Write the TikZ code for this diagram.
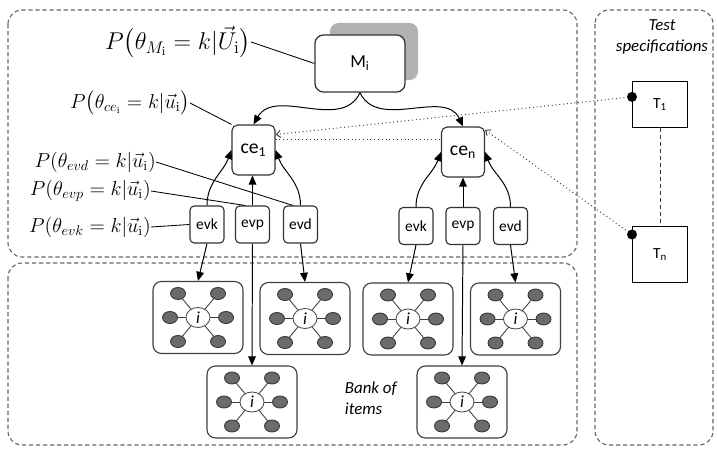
\documentclass[tikz,border=0pt]{standalone}
\usepackage{amsmath}
\usepackage{fontspec}
\setsansfont{Carlito}
\usetikzlibrary{arrows.meta, shapes.geometric, positioning, calc}
\tikzset{
  areabox/.style={
    draw=black!60, line width=0.8pt, dash pattern=on 3pt off 2pt,
    rounded corners=10pt
  },
  mbox/.style={
    rectangle, rounded corners=6pt,
    minimum width=2.25cm, minimum height=1.425cm,
    draw=black!80, line width=0.9pt, fill=white,
    font=\sffamily\fontsize{13}{15}\selectfont
  },
  mshadow/.style={
    rectangle, rounded corners=6pt,
    minimum width=2.2cm, minimum height=1.425cm,
    fill=black!30
  },
  cebox/.style={
    rectangle, rounded corners=4pt, inner sep=0pt,
    minimum width=1.075cm, minimum height=1.25cm,
    draw=black!80, line width=0.8pt, fill=white,
    font=\sffamily\fontsize{14}{16}\selectfont
  },
  evbox/.style={
    rectangle, rounded corners=3pt, inner sep=0pt,
    minimum width=0.85cm, minimum height=0.925cm,
    draw=black!80, line width=0.8pt, fill=white,
    font=\sffamily\fontsize{11}{13}\selectfont
  },
  testbox/.style={
    rectangle, minimum width=1.375cm, minimum height=#1,
    draw=black, line width=0.7pt, fill=white,
    font=\sffamily\fontsize{11}{13}\selectfont
  },
  itembox/.style={
    rectangle, rounded corners=6pt,
    minimum width=2.25cm, minimum height=1.8cm,
    draw=black!75, line width=0.8pt, fill=white
  },
  itemcore/.style={
    ellipse, inner sep=0pt, minimum width=0.6cm, minimum height=0.5cm,
    draw=black!70, line width=0.6pt, fill=white,
    font=\sffamily\itshape\fontsize{12}{12}\selectfont
  },
  itemleaf/.style={
    ellipse, inner sep=0pt, minimum width=0.375cm, minimum height=0.3cm,
    draw=black!80, line width=0.6pt, fill=black!58
  },
  itemedge/.style={black!75, line width=0.6pt},
  probtext/.style={anchor=east, inner sep=0pt, font=\fontsize{14}{16}\selectfont},
  linkline/.style={black, line width=0.6pt},
  flowarrow/.style={-{Triangle[length=6.5pt,width=5.5pt]}, black, line width=0.7pt},
  specline/.style={black!75, line width=0.7pt, dotted},
  specarrow/.style={specline, -{Straight Barb[length=3pt,width=5pt]}},
  specdot/.style={circle, fill=black, minimum size=0.25cm, inner sep=0pt},
}

\begin{document}
\begin{tikzpicture}[x=0.025cm, y=-0.025cm]
    \useasboundingbox (0,0) rectangle (717,451);

    % the three areas
    \draw[areabox] (8,10)   rectangle (577,257);
    \draw[areabox] (8,263)  rectangle (577,445);
    \draw[areabox] (595,10) rectangle (713,445);

    \node[font=\sffamily\itshape\fontsize{12}{15}\selectfont, align=center]
         (spec) at (662,37) {Test\\specifications};

    % model and competences
    \node[mshadow] (Mish) at (374,51.5) {};
    \node[mbox]    (Mi)   at (360,63.5) {M\textsubscript{i}};

    \node[cebox] (ce1) at (253.5,150) {ce\textsubscript{1}};
    \node[cebox] (cen) at (463,152)   {ce\textsubscript{n}};

    \node[evbox] (evk1) at (207,224.5)   {evk};
    \node[evbox] (evp1) at (252.5,224.5) {evp};
    \node[evbox] (evd1) at (300.5,224.5) {evd};

    \node[evbox] (evkn) at (416,226)   {evk};
    \node[evbox] (evpn) at (463,226)   {evp};
    \node[evbox] (evdn) at (510.5,226) {evd};

    \draw[flowarrow] (Mi.south) to[out=-115,in=60]  (ce1.north);
    \draw[flowarrow] (Mi.south) to[out=-65, in=115] (cen.north);

    \draw[flowarrow] (evk1.north) to[out=90,in=250] (ce1.west);
    \draw[flowarrow] (evp1.north) -- (evp1.north |- ce1.south);
    \draw[flowarrow] (evd1.north) to[out=90,in=-70] (ce1.east);

    \draw[flowarrow] (evkn.north) to[out=90,in=250] (cen.west);
    \draw[flowarrow] (evpn.north) -- (evpn.north |- cen.south);
    \draw[flowarrow] (evdn.north) to[out=90,in=-70] (cen.east);

    % probability labels
    \node[probtext, font=\fontsize{18}{20}\selectfont] (pM) at (251,42)
         {$P\bigl(\theta_{M_\mathrm{i}} = k|\vec{U}_\mathrm{i}\bigr)$};
    \node[probtext] (pce)  at (190,103)
         {$P\bigl(\theta_{ce_\mathrm{i}} = k|\vec{u}_\mathrm{i}\bigr)$};
    \node[probtext] (pevd) at (156,162) {$P(\theta_{evd} = k|\vec{u}_\mathrm{i})$};
    \node[probtext] (pevp) at (151,191) {$P(\theta_{evp} = k|\vec{u}_\mathrm{i})$};
    \node[probtext] (pevk) at (151,227) {$P(\theta_{evk} = k|\vec{u}_\mathrm{i})$};

    \draw[linkline] (pM.east)   -- (Mi.west);
    \draw[linkline] (pce.east)  -- (ce1.north west);
    \draw[linkline] (pevd.east) -- (evd1.112);
    \draw[linkline] (pevp.east) -- (evp1.112);
    \draw[linkline] (pevk.east) -- (evk1.west);

    % test specifications
    \node[testbox=1.125cm] (T1) at (660,104.5) {T\textsubscript{1}};
    \node[testbox=1.375cm] (Tn) at (660,254.5) {T\textsubscript{n}};
    \draw[black!80, line width=0.7pt, dash pattern=on 3pt off 2pt] (T1.south) -- (Tn.north);

    \coordinate (s1) at ([yshift=0.19cm]T1.west);
    \coordinate (sn) at ([yshift=-0.2cm]Tn.north west);
    \draw[specarrow] (s1) -- (ce1.35);
    \draw[specarrow] (sn) -- (cen.45);
    \draw[specline]  (ce1.25) -- (ce1.25 -| cen.west);
    \node[specdot] (dot1) at (s1) {};
    \node[specdot] (dotn) at (sn) {};

    % bank of items
    \foreach \n/\x/\y in {A/198/317.5, B/305/318.5, C/408/319,
                          D/515.5/319, E/252/402, F/462/402} {
      \node[itembox] (\n) at (\x,\y) {};
      \foreach \a/\dx/\dy in {w/-28/0, e/28/0, nw/-20/-24,
                              ne/20/-24, sw/-20/24, se/20/24} {
        \node[itemleaf] (\n-\a) at ($(\n.center)+(\dx,\dy)$) {};
        \draw[itemedge] (\n.center) -- (\n-\a);
      }
      \node[itemcore] (\n-c) at (\n.center) {i};
    }

    \draw[flowarrow] (evk1.south) -- (A.north);
    \draw[flowarrow] (evd1.south) -- (B.north);
    \draw[flowarrow] (evp1.south) -- (E.north);
    \draw[flowarrow] (evkn.south) -- (C.north);
    \draw[flowarrow] (evdn.south) -- (D.north);
    \draw[flowarrow] (evpn.south) -- (F.north);

    \node[font=\sffamily\itshape\fontsize{12}{15}\selectfont, align=left, anchor=west]
         (bank) at (340,398) {Bank of\\items};
\end{tikzpicture}
\end{document}
